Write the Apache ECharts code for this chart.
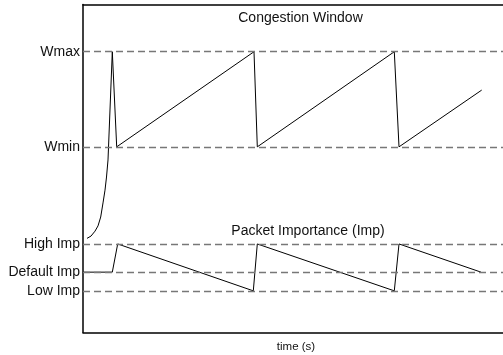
<!DOCTYPE html>
<html>
<head>
<meta charset="utf-8">
<script src="https://cdn.jsdelivr.net/npm/echarts@6/dist/echarts.min.js"></script>
<style>
  html, body { margin: 0; padding: 0; background: #fff; overflow: hidden; }
  /* the plot frame runs past the right edge of the window */
  #chart { width: 520px; height: 355px; }
</style>
</head>
<body>
<div id="chart"></div>
<script>
// Reference levels on the shared vertical scale (arbitrary units)
const levelNames = ['Wmax', 'Wmin', 'High Imp', 'Default Imp', 'Low Imp'];
const levelValues = [85.6, 56.6, 27.0, 18.4, 12.7];

// Congestion window: slow start, then additive increase / multiplicative decrease
const cwndTime  = [0.4, 0.8, 1.2, 1.5, 1.77, 2.0, 2.2, 2.35, 2.5, 2.93, 3.37, 17.1, 17.43, 31.13, 31.6, 39.87];
const cwndValue = [28.7, 29.4, 30.9, 32.5, 35.2, 39.5, 43.4, 47.4, 52.6, 85.6, 56.6, 85.6, 56.6, 85.6, 56.6, 73.9];

// Packet importance: raised after each loss, then decays toward Low Imp
const impTime  = [0, 2.93, 3.47, 17.03, 17.43, 31.13, 31.6, 39.8];
const impValue = [18.4, 18.4, 27.0, 12.7, 27.0, 12.7, 27.0, 18.4];

const FONT = '"Liberation Sans", Arial, Helvetica, sans-serif';

const zip = (xs, ys) => xs.map((x, i) => [x, ys[i]]);
const labelOf = {};
levelValues.forEach((v, i) => { labelOf[v] = levelNames[i]; });

const frameLine = { show: true, lineStyle: { color: '#000', width: 1.5 } };

const chart = echarts.init(document.getElementById('chart'), null, { renderer: 'canvas' });

chart.setOption({
  animation: false,
  backgroundColor: '#fff',
  textStyle: { fontFamily: FONT },
  grid: {
    left: 83, top: 4.5, width: 426, height: 328,
    containLabel: false,
    outerBoundsMode: 'none'
  },
  xAxis: [
    {
      type: 'value', min: 0, max: 42.6, position: 'bottom',
      name: 'time (s)', nameLocation: 'middle', nameGap: 8,
      nameTextStyle: { fontFamily: FONT, fontSize: 11.5, color: '#111' },
      axisLine: frameLine, axisTick: { show: false },
      axisLabel: { show: false }, splitLine: { show: false }
    },
    {
      // top edge of the frame
      type: 'value', min: 0, max: 42.6, position: 'top',
      axisLine: frameLine, axisTick: { show: false },
      axisLabel: { show: false }, splitLine: { show: false }
    }
  ],
  yAxis: {
    type: 'value', min: 0, max: 100,
    axisLine: frameLine, axisTick: { show: false }, splitLine: { show: false },
    axisLabel: {
      customValues: levelValues,
      formatter: v => labelOf[v] || '',
      fontFamily: FONT, fontSize: 14, color: '#111', margin: 3
    }
  },
  graphic: [
    { type: 'text', x: 300.5, y: 18.5,
      style: { text: 'Congestion Window', font: '14px ' + FONT, fill: '#111', align: 'center', verticalAlign: 'middle' } },
    { type: 'text', x: 308, y: 231,
      style: { text: 'Packet Importance (Imp)', font: '14px ' + FONT, fill: '#111', align: 'center', verticalAlign: 'middle' } }
  ],
  series: [
    {
      name: 'levels', type: 'line', data: [], silent: true,
      markLine: {
        silent: true, symbol: 'none', label: { show: false },
        lineStyle: { color: '#777', width: 1.3, type: [7, 4] },
        emphasis: { disabled: true },
        data: levelValues.map(v => ({ yAxis: v }))
      }
    },
    {
      name: 'Congestion Window', type: 'line', data: zip(cwndTime, cwndValue),
      showSymbol: false, symbol: 'none', silent: true, z: 3,
      lineStyle: { color: '#000', width: 1 }
    },
    {
      name: 'Packet Importance', type: 'line', data: zip(impTime, impValue),
      showSymbol: false, symbol: 'none', silent: true, z: 3,
      lineStyle: { color: '#000', width: 1 }
    }
  ]
});
</script>
</body>
</html>
